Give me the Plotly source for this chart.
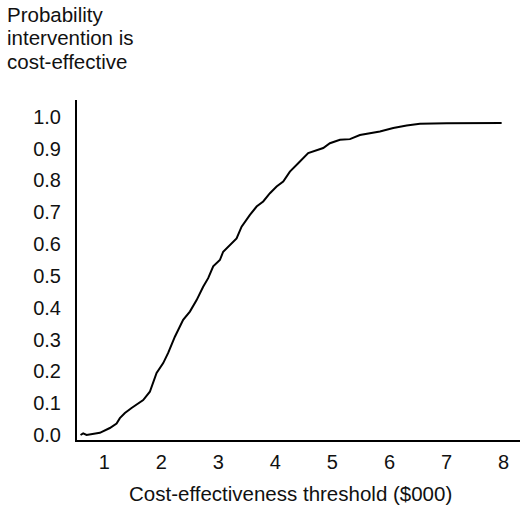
import plotly.graph_objects as go

threshold = [0.582, 0.628, 0.688, 0.921, 1.096, 1.214, 1.272, 1.360, 1.477, 1.593, 1.681, 1.798,
             1.916, 2.032, 2.119, 2.237, 2.382, 2.500, 2.618, 2.733, 2.821, 2.909, 3.026, 3.084,
             3.232, 3.319, 3.407, 3.465, 3.553, 3.670, 3.786, 3.904, 4.021, 4.137, 4.254, 4.400,
             4.430, 4.575, 4.839, 4.956, 5.132, 5.307, 5.482, 5.833, 6.067, 6.302, 6.535, 7.004, 7.968]
probability = [0.0, 0.005, 0.0, 0.007, 0.022, 0.036, 0.053, 0.069, 0.085, 0.100, 0.110, 0.136,
               0.195, 0.226, 0.258, 0.309, 0.362, 0.388, 0.424, 0.466, 0.493, 0.530, 0.550, 0.576,
               0.603, 0.618, 0.655, 0.671, 0.692, 0.718, 0.734, 0.760, 0.781, 0.797, 0.828, 0.854,
               0.860, 0.886, 0.902, 0.917, 0.928, 0.930, 0.943, 0.954, 0.965, 0.973, 0.978, 0.980, 0.981]

x_ticks = [1, 2, 3, 4, 5, 6, 7, 8]
y_ticks = [0.0, 0.1, 0.2, 0.3, 0.4, 0.5, 0.6, 0.7, 0.8, 0.9, 1.0]
y_title_lines = ["Probability", "intervention is", "cost-effective"]
x_title = "Cost-effectiveness threshold ($000)"

FONT = "Liberation Sans, Arial, Helvetica, sans-serif"
TXT = "#111"

fig = go.Figure()
fig.add_trace(go.Scatter(x=threshold, y=probability, mode="lines",
                         line=dict(color="black", width=2), showlegend=False,
                         hoverinfo="skip"))

annotations = []
for i, line in enumerate(y_title_lines):
    annotations.append(dict(text=line, xref="paper", yref="paper",
                            x=(5 - 77) / 443, y=(440 - (14 + 24 * i)) / 340,
                            xanchor="left", yanchor="middle", align="left", showarrow=False,
                            font=dict(family=FONT, size=20.5, color=TXT)))
annotations.append(dict(text=x_title, xref="paper", yref="paper",
                        x=(290 - 77) / 443, y=(440 - 494) / 340,
                        xanchor="center", yanchor="middle", showarrow=False,
                        font=dict(family=FONT, size=20.5, color=TXT)))

fig.update_layout(
    width=520, height=508,
    margin=dict(l=77, r=0, t=100, b=68),
    paper_bgcolor="white", plot_bgcolor="white",
    font=dict(family=FONT, size=20, color=TXT),
    xaxis=dict(range=[0.52, 8.29], tickvals=x_ticks, ticktext=[str(v) for v in x_ticks],
               showgrid=False, zeroline=False, showline=True, linecolor="black", linewidth=2,
               ticks="outside", ticklen=3, tickcolor="rgba(0,0,0,0)"),
    yaxis=dict(range=[-0.0157, 1.053], tickvals=y_ticks, ticktext=[f"{v:.1f}" for v in y_ticks],
               showgrid=False, zeroline=False, showline=True, linecolor="black", linewidth=2,
               ticks="outside", ticklen=10, tickcolor="rgba(0,0,0,0)"),
    annotations=annotations,
)

fig.write_html("out.html")
